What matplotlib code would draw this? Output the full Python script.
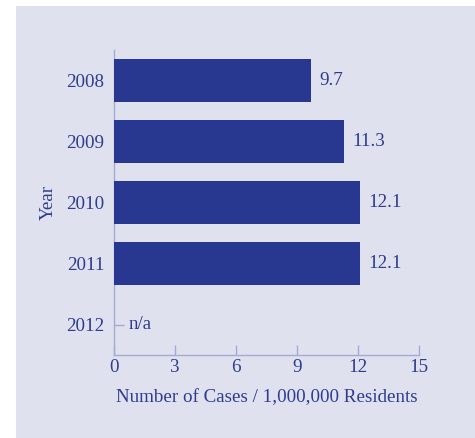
import matplotlib.pyplot as plt
from matplotlib.patches import Rectangle

years = ['2008', '2009', '2010', '2011', '2012']
cases = [9.7, 11.3, 12.1, 12.1, None]
xticks = [0, 3, 6, 9, 12, 15]

navy = '#283891'
text_col = '#2f3b8e'
panel = '#dfe1ef'
line_col = '#a6aad3'
fs = 13.7

plt.rcParams['font.family'] = ['Liberation Serif', 'DejaVu Serif']

fig = plt.figure(figsize=(4.75, 4.38), dpi=100)
fig.patch.set_facecolor('white')
fig.patches.append(Rectangle((16 / 475, 0), 1, 1 - 6 / 438, transform=fig.transFigure,
                             facecolor=panel, edgecolor='none', zorder=-1))

ax = fig.add_axes([114 / 475, 1 - 355 / 438, 305 / 475, 305 / 438])
ax.set_facecolor('none')

pos = list(range(len(years)))
for i, v in zip(pos, cases):
    if v is None:
        ax.text(0.7, i, 'n/a', va='center', ha='left', color=text_col, fontsize=fs)
        continue
    ax.barh(i, v, height=0.72, color=navy, zorder=3)
    ax.text(v + 0.4, i, f'{v:.1f}', va='center', ha='left', color=text_col, fontsize=fs)

ax.set_xlim(0, 15)
ax.set_ylim(len(years) - 0.5, -0.5)
ax.set_xticks(xticks)
ax.set_yticks(pos)
ax.set_yticklabels(years)

for s in ['top', 'right']:
    ax.spines[s].set_visible(False)
for s in ['left', 'bottom']:
    ax.spines[s].set_color(line_col)
    ax.spines[s].set_linewidth(1)

ax.tick_params(axis='both', direction='in', length=7, width=1, color=line_col,
               labelcolor=text_col, labelsize=fs)
ax.tick_params(axis='x', pad=3)
ax.tick_params(axis='y', pad=7)

ax.set_xlabel('Number of Cases / 1,000,000 Residents', color=text_col, fontsize=fs, labelpad=9)
ax.set_ylabel('Year', color=text_col, fontsize=fs, labelpad=7)

fig.savefig('out.png', dpi=100)
